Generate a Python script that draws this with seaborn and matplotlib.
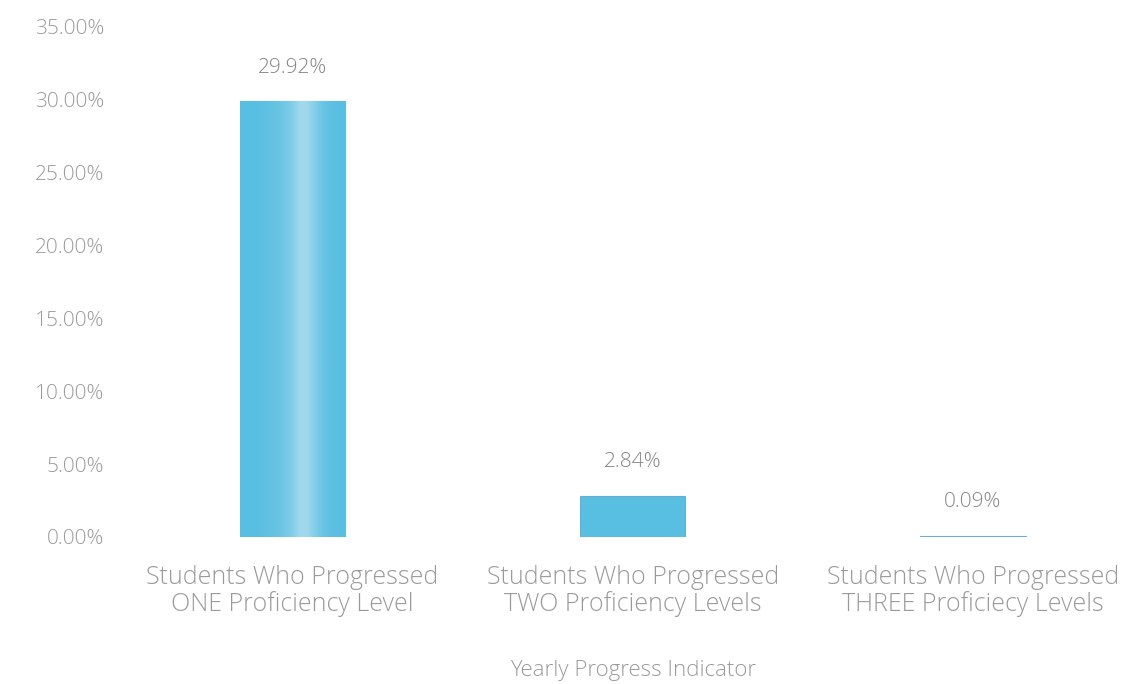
import numpy as np
import pandas as pd
import matplotlib
matplotlib.use("Agg")
import matplotlib.pyplot as plt
import seaborn as sns
from matplotlib.ticker import FuncFormatter
from matplotlib.colors import LinearSegmentedColormap

categories = [
    "Students Who Progressed\nONE Proficiency Level",
    "Students Who Progressed\nTWO Proficiency Levels",
    "Students Who Progressed\nTHREE Proficiecy Levels",
]
values = [29.92, 2.84, 0.09]
value_labels = ["29.92%", "2.84%", "0.09%"]
x_title = "Yearly Progress Indicator"

df = pd.DataFrame({"indicator": categories, "pct": values})

sns.set_style("white")
plt.rcParams["font.family"] = ["Open Sans", "DejaVu Sans"]
text_col = "#9a9a9a"
bar_col = "#58bee2"

fig = plt.figure(figsize=(11.43, 6.84), dpi=100)
ax = fig.add_axes([0.107, 0.215, 0.893, 0.7456])

sns.barplot(data=df, x="indicator", y="pct", color=bar_col, width=0.31,
            saturation=1, ax=ax)
for patch in ax.patches:
    patch.set_edgecolor("#6aaecb")
    patch.set_linewidth(0.8)

# light vertical streak (gradient fill in the original), slightly right of centre
grad = np.array([[0.0, 0.0, 0.05, 0.1, 0.2, 0.35, 0.75, 0.45, 0.15, 0.05, 0.0]])
cmap = LinearSegmentedColormap.from_list("bar", [bar_col, "#cde9f2"])
for patch in ax.patches:
    bx, by = patch.get_x(), patch.get_y()
    bw, bh = patch.get_width(), patch.get_height()
    if bh < 5:
        continue
    im = ax.imshow(grad, extent=[bx, bx + bw, by, by + bh], cmap=cmap, vmin=0, vmax=1,
                   aspect="auto", interpolation="bicubic", zorder=patch.get_zorder() + 0.1)
    im.set_clip_path(patch)

ax.set_xlim(-0.5, 2.5)
ax.set_ylim(0, 35)
ax.set_yticks(np.arange(0, 36, 5))
ax.yaxis.set_major_formatter(FuncFormatter(lambda v, p: f"{v:.2f}%"))

for i, lab in enumerate(value_labels):
    ax.annotate(lab, (i, values[i]), xytext=(0, 24), textcoords="offset points",
                ha="center", va="center", fontsize=15, color="#858585",
                fontweight="light")

ax.set_xlabel(x_title, fontsize=16, color=text_col, fontweight="light", labelpad=31)
ax.set_ylabel("")
ax.tick_params(axis="x", labelsize=18, colors=text_col, length=0, pad=20)
ax.tick_params(axis="y", labelsize=15, colors=text_col, length=0, pad=13)
for t in ax.get_xticklabels() + ax.get_yticklabels():
    t.set_fontweight("light")
    t.set_linespacing(1.05)
for s in ax.spines.values():
    s.set_visible(False)

fig.savefig("out.png", dpi=100)
